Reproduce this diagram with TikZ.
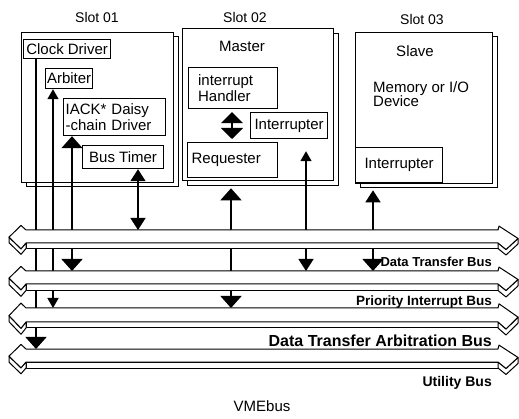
\documentclass[tikz,border=0pt]{standalone}
\usepackage{fontspec}
\setmainfont{Liberation Sans}
\usetikzlibrary{arrows.meta}
\newcommand\vmebus[3]{%
  \draw[busline] (26,{#1+#2}) rectangle (498,{#1+#2+#3});
  \draw[busline] (498,{#1+#2}) -- (506,{#1+1.5*#2}) -- (518,{#1+0.65*#2}) -- (518,{#1+0.65*#2+#3}) -- (506,{#1+1.5*#2+#3}) -- (498,{#1+#2+#3}) -- cycle;
  \draw[busline] (26,{#1+#2}) -- (21,{#1+1.45*#2}) -- (9,{#1+0.55*#2}) -- (9,{#1+0.55*#2+#3}) -- (21,{#1+1.45*#2+#3}) -- (26,{#1+#2+#3}) -- cycle;
  \draw[busline] (26,#1) -- (498,#1) -- (499,{#1-0.3*#2}) -- (518,{#1+0.65*#2}) -- (506,{#1+1.5*#2}) -- (498,{#1+#2}) -- (26,{#1+#2}) -- (21,{#1+1.45*#2}) -- (9,{#1+0.55*#2}) -- (21,{#1-0.35*#2}) -- cycle;
}
\begin{document}
\begin{tikzpicture}[x=1pt,y=-1pt,
  slotbox/.style={draw,line width=1.3pt,fill=white,inner sep=0pt,anchor=north west},
  box/.style={draw,line width=1.2pt,fill=white,inner sep=1pt,anchor=north west,font=\fontsize{15}{16}\selectfont},
  txt/.style={inner sep=0pt,font=\fontsize{15}{16}\selectfont},
  title/.style={inner sep=0pt,anchor=base,font=\fontsize{14}{15}\selectfont},
  buslbl/.style={inner sep=0pt,anchor=base east,font=\bfseries\fontsize{13}{14}\selectfont},
  busline/.style={draw,line width=1pt,fill=white,line join=round},
  conn/.style={line width=1.5pt},
  tipL/.tip={Triangle[width=21pt,length=12pt]},
  tipM/.tip={Triangle[width=15pt,length=12pt]},
  tipS/.tip={Triangle[width=11pt,length=10pt]},
  tipD/.tip={Triangle[width=22pt,length=11pt]}
]
\useasboundingbox (0,0) rectangle (519,419);

% Slot titles
\node[title] (t1) at (97,23) {Slot 01};
\node[title] (t2) at (245,23) {Slot 02};
\node[title] (t3) at (422,25) {Slot 03};

% Slot 01
\node[slotbox,minimum width=152pt,minimum height=150pt] (slot1sh) at (26,36) {};
\node[slotbox,minimum width=152pt,minimum height=150pt] (slot1) at (21,32) {};
\node[box,minimum width=87pt,minimum height=19pt] (clock) at (23,39) {Clock Driver};
\node[box,minimum width=47pt,minimum height=20pt] (arbiter) at (45,68) {Arbiter};
\node[box,minimum width=102pt,minimum height=37pt,text width=98pt,inner xsep=2pt,align=left,font=\fontsize{15}{16}\selectfont] (iack) at (63,98) {IACK* Daisy\\-chain Driver};
\node[box,minimum width=81pt,minimum height=23pt] (bustimer) at (82,145) {Bus Timer};

% Slot 02
\node[slotbox,minimum width=151pt,minimum height=152pt] (slot2sh) at (187,33) {};
\node[slotbox,minimum width=151pt,minimum height=152pt] (slot2) at (182,28) {};
\node[txt,anchor=base] (master) at (242,52) {Master};
\node[box,minimum width=89pt,minimum height=41pt,text width=70pt,inner xsep=9.5pt,align=left] (handler) at (188,67) {interrupt\\Handler};
\node[box,minimum width=77pt,minimum height=26pt] (intr2) at (250,112) {Interrupter};
\node[box,minimum width=90pt,minimum height=35pt,text width=82pt,inner xsep=4pt,align=left] (requester) at (187,142) {Requester};

% Slot 03
\node[slotbox,minimum width=137pt,minimum height=151pt] (slot3sh) at (360,36) {};
\node[slotbox,minimum width=137pt,minimum height=151pt] (slot3) at (355,32) {};
\node[txt,anchor=base] (slave) at (415,57) {Slave};
\node[txt,anchor=north west,align=left,font=\fontsize{15}{14}\selectfont] (memdev) at (373,81) {Memory or I/O\\Device};
\node[box,minimum width=87pt,minimum height=35pt] (intr3) at (355,147) {Interrupter};

% bus end points
\coordinate (clkb) at (36,349);
\coordinate (arbb) at (53,308);
\coordinate (iackb) at (72,271);
\coordinate (btb) at (138,230);
\coordinate (reqb) at (231,308);
\coordinate (int2b) at (306,271);
\coordinate (s3b) at (373,271);
\coordinate (dblx) at (232,0);

% connectors
\draw[conn,-tipL] (clock.south -| clkb) -- (clkb);
\draw[conn,tipS-tipS] (arbiter.south -| arbb) -- (arbb);
\draw[conn,tipL-tipL] (iack.south -| iackb) -- (iackb);
\draw[conn,tipM-tipM] (bustimer.south -| btb) -- (btb);
\draw[conn,tipL-tipL] ([yshift=-2pt]slot2sh.south -| reqb) -- (reqb);
\draw[conn,tipS-tipM] ([yshift=-12pt]intr2.south -| int2b) -- (int2b);
\draw[conn,tipM-tipL] ([yshift=-2pt]slot3sh.south -| s3b) -- (s3b);
\draw[conn,tipD-tipD,shorten <=3pt,shorten >=3pt] (handler.south -| dblx) -- (requester.north -| dblx);

% buses
\vmebus{230}{13}{5.5}
\vmebus{271}{13}{6.5}
\vmebus{308}{14}{6}
\vmebus{349}{13}{6}

% labels
\node[buslbl] (l1) at (492,267) {Data Transfer Bus};
\node[buslbl,font=\bfseries\fontsize{13.5}{14}\selectfont] (l2) at (492,306) {Priority Interrupt Bus};
\node[buslbl,font=\bfseries\fontsize{16}{17}\selectfont] (l3) at (492,346) {Data Transfer Arbitration Bus};
\node[buslbl,font=\bfseries\fontsize{14}{15}\selectfont] (l4) at (492,386) {Utility Bus};
\node[txt,anchor=base] (vme) at (262,411) {VMEbus};
\end{tikzpicture}
\end{document}
